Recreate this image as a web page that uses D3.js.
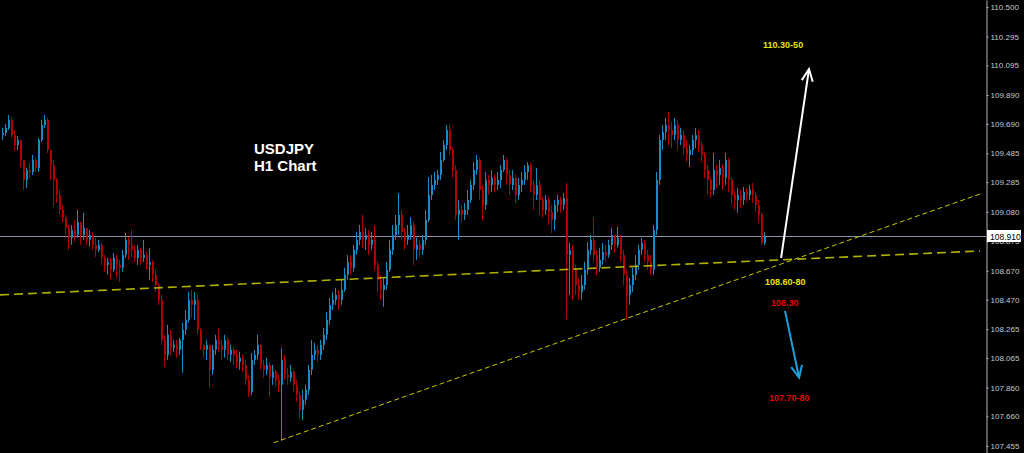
<!DOCTYPE html>
<html><head><meta charset="utf-8">
<script src="https://cdn.jsdelivr.net/npm/d3@7"></script>
<style>html,body{margin:0;padding:0;background:#000;overflow:hidden}svg{display:block}</style>
</head><body>
<svg id="chart" width="1024" height="453"></svg>
<script>
const title = ["USDJPY", "H1 Chart"];
const tickLabels = [110.500,110.295,110.095,109.890,109.690,109.485,109.285,109.080,108.875,108.670,108.470,108.265,108.065,107.860,107.660,107.455];
const currentPrice = 108.910;
const firstOpen = 109.612;
const closes = [
109.626,109.662,109.717,109.612,109.543,109.578,109.439,109.301,109.370,109.356,
109.439,109.384,109.578,109.682,109.717,109.509,109.404,109.301,109.196,109.093,
109.038,108.968,108.899,108.954,108.919,109.009,108.919,108.968,108.885,108.919,
108.850,108.815,108.850,108.760,108.711,108.732,108.677,108.760,108.711,108.691,
108.780,108.885,108.850,108.815,108.760,108.815,108.760,108.780,108.711,108.732,
108.642,108.572,108.469,108.191,108.087,108.226,108.136,108.156,108.122,108.191,
108.261,108.330,108.469,108.434,108.469,108.261,108.156,108.122,108.156,107.983,
108.122,108.191,108.156,108.122,108.191,108.087,108.122,108.087,108.038,108.067,
108.017,107.914,107.830,108.052,108.087,108.156,108.017,107.983,108.017,107.928,
107.969,107.914,107.879,108.052,107.948,107.928,107.969,107.879,107.809,107.706,
107.775,107.844,107.983,108.087,108.122,108.087,108.156,108.226,108.330,108.434,
108.469,108.503,108.469,108.538,108.642,108.732,108.691,108.815,108.885,108.940,
108.885,108.919,108.850,108.885,108.711,108.607,108.538,108.572,108.677,108.815,
108.919,108.988,109.058,108.940,108.885,108.919,108.988,108.815,108.850,108.815,
108.885,109.023,109.196,109.266,109.301,109.335,109.439,109.543,109.647,109.509,
109.370,109.058,109.093,109.058,109.093,109.162,109.266,109.370,109.439,109.231,
109.127,109.301,109.266,109.315,109.266,109.301,109.370,109.439,109.335,109.266,
109.315,109.196,109.266,109.301,109.356,109.404,109.266,109.196,109.266,109.162,
109.093,109.162,109.079,109.023,109.127,109.162,109.127,109.176,108.780,108.815,
108.677,108.572,108.524,108.572,108.677,108.815,108.885,108.780,108.691,108.746,
108.801,108.780,108.850,108.919,108.850,108.899,108.780,108.642,108.503,108.572,
108.642,108.711,108.815,108.864,108.780,108.732,108.677,108.954,109.301,109.578,
109.633,109.682,109.647,109.612,109.682,109.578,109.612,109.523,109.474,109.509,
109.578,109.612,109.543,109.474,109.370,109.301,109.231,109.370,109.335,109.384,
109.315,109.439,109.301,109.196,109.162,109.196,109.162,109.217,109.196,109.231,
109.196,109.127,109.058,108.864,108.910];
const highs = [
109.662,109.689,109.751,109.737,109.647,109.605,109.578,109.439,109.384,109.418,
109.474,109.454,109.592,109.717,109.751,109.731,109.509,109.439,109.315,109.231,
109.127,109.058,108.988,108.988,109.023,109.093,108.988,109.072,108.968,108.954,
108.940,108.899,108.885,108.864,108.780,108.760,108.760,108.794,108.780,108.746,
108.815,108.933,108.905,108.954,108.850,108.850,108.830,108.885,108.801,108.830,
108.746,108.677,108.586,108.503,108.226,108.295,108.261,108.191,108.191,108.206,
108.309,108.399,108.524,108.538,108.524,108.503,108.275,108.156,108.191,108.156,
108.156,108.226,108.275,108.191,108.226,108.206,108.156,108.136,108.122,108.108,
108.087,108.052,107.948,108.101,108.122,108.226,108.156,108.052,108.067,108.038,
108.017,107.983,107.948,108.136,108.087,107.997,108.017,107.983,107.914,107.830,
107.844,107.879,108.017,108.191,108.170,108.156,108.191,108.275,108.385,108.483,
108.524,108.552,108.538,108.607,108.691,108.780,108.780,108.850,108.940,108.988,
109.058,108.968,108.954,108.940,108.988,108.732,108.642,108.621,108.732,108.885,
108.988,109.058,109.210,109.093,108.968,108.988,109.044,109.009,108.899,108.885,
108.919,109.093,109.321,109.335,109.356,109.370,109.495,109.578,109.682,109.682,
109.523,109.404,109.162,109.127,109.141,109.231,109.301,109.425,109.474,109.454,
109.266,109.356,109.335,109.370,109.335,109.356,109.404,109.474,109.454,109.370,
109.370,109.335,109.315,109.356,109.404,109.425,109.418,109.301,109.384,109.301,
109.183,109.196,109.176,109.127,109.162,109.196,109.183,109.210,109.280,108.864,
108.850,108.711,108.621,108.642,108.732,108.871,108.919,109.044,108.815,108.830,
108.864,108.850,108.885,108.968,108.919,108.975,108.919,108.815,108.677,108.621,
108.691,108.780,108.850,108.899,108.885,108.815,108.780,108.988,109.356,109.612,
109.682,109.731,109.772,109.703,109.731,109.717,109.662,109.647,109.578,109.543,
109.612,109.662,109.647,109.564,109.495,109.404,109.315,109.488,109.404,109.439,
109.404,109.488,109.454,109.315,109.231,109.245,109.231,109.252,109.245,109.266,
109.280,109.217,109.162,109.072,108.940];
const lows = [
109.578,109.605,109.647,109.592,109.509,109.509,109.390,109.231,109.245,109.315,
109.335,109.356,109.356,109.564,109.662,109.488,109.301,109.113,109.141,109.058,
109.009,108.919,108.815,108.850,108.871,108.899,108.850,108.885,108.850,108.836,
108.815,108.766,108.801,108.711,108.663,108.642,108.607,108.663,108.621,108.593,
108.663,108.760,108.746,108.766,108.732,108.711,108.711,108.732,108.677,108.607,
108.593,108.524,108.434,108.156,108.003,108.052,108.087,108.108,108.067,108.087,
107.962,108.226,108.309,108.344,108.330,108.226,108.122,108.067,108.052,107.865,
107.948,108.087,108.108,108.052,108.067,108.052,108.038,108.017,107.997,107.983,
107.969,107.879,107.796,107.809,108.017,108.052,107.983,107.928,107.948,107.796,
107.879,107.872,107.830,107.491,107.914,107.879,107.900,107.830,107.761,107.650,
107.636,107.740,107.809,107.948,108.052,108.038,108.052,108.122,108.191,108.295,
108.399,108.434,108.399,108.434,108.524,108.607,108.642,108.663,108.780,108.850,
108.830,108.815,108.780,108.815,108.677,108.524,108.469,108.420,108.538,108.663,
108.780,108.885,108.919,108.885,108.815,108.850,108.885,108.711,108.746,108.760,
108.780,108.850,109.009,109.162,109.231,109.266,109.301,109.425,109.509,109.474,
109.315,109.023,108.885,109.009,109.023,109.058,109.141,109.231,109.335,109.162,
109.023,109.093,109.196,109.217,109.217,109.231,109.245,109.356,109.266,109.196,
109.231,109.141,109.162,109.217,109.266,109.301,109.217,109.093,109.162,109.058,
109.038,109.058,108.988,108.933,108.954,109.079,109.072,109.093,108.330,108.503,
108.469,108.503,108.469,108.469,108.538,108.642,108.780,108.732,108.642,108.663,
108.711,108.732,108.760,108.815,108.794,108.830,108.732,108.572,108.330,108.434,
108.524,108.607,108.677,108.780,108.732,108.677,108.642,108.642,108.919,109.266,
109.509,109.578,109.543,109.523,109.578,109.509,109.543,109.474,109.425,109.390,
109.474,109.523,109.495,109.425,109.315,109.196,109.176,109.196,109.245,109.266,
109.231,109.266,109.217,109.127,109.093,109.072,109.106,109.127,109.148,109.162,
109.141,109.079,109.009,108.850,108.850];

// trend lines: [bar index, price]
const trendFlat = [[-0.67, 108.503], [326, 108.808]];
const trendRising = [[90.5, 107.477], [326, 109.203]];
// annotations: [bar index, price]
const upArrow = [[259.7, 108.760], [269, 110.070]];
const downArrow = [[261, 108.392], [265.7, 107.928]];
const labels = [
  {text: "110.30-50", i: 253.7, p: 110.215, color: "#e6e600"},
  {text: "108.60-80", i: 254.3, p: 108.574, color: "#e6e600"},
  {text: "108.30", i: 256.3, p: 108.428, color: "#e00000"},
  {text: "107.70-80", i: 255.7, p: 107.768, color: "#e00000"}
];

const W = 1024, H = 453, axisX = 986;
const svg = d3.select("#chart");
svg.append("rect").attr("width", W).attr("height", H).attr("fill", "#000");

const x = d3.scaleLinear().domain([0, 326]).range([2, 980]);
const y = d3.scaleLinear().domain([107.406, 110.549]).range([H, 0]);

const candles = closes.map((c, i) => {
  const o = i === 0 ? firstOpen : closes[i - 1];
  return {i, o, c, h: Math.max(highs[i], o, c), l: Math.min(lows[i], o, c)};
});

// current price line
svg.append("line").attr("x1", 0).attr("x2", axisX).attr("y1", Math.round(y(currentPrice)) + 0.5).attr("y2", Math.round(y(currentPrice)) + 0.5)
  .attr("stroke", "#8a93a6").attr("stroke-width", 1);

const upC = "#1a8ac4", dnC = "#b00000";
const g = svg.append("g");
g.selectAll("line.wick").data(candles).join("line").attr("class", "wick")
  .attr("x1", d => Math.round(x(d.i)) + 0.5).attr("x2", d => Math.round(x(d.i)) + 0.5)
  .attr("y1", d => y(d.h)).attr("y2", d => y(d.l))
  .attr("stroke", d => d.c >= d.o ? upC : dnC).attr("stroke-width", 1);
g.selectAll("rect.body").data(candles).join("rect").attr("class", "body")
  .attr("x", d => Math.round(x(d.i)))
  .attr("width", 2)
  .attr("y", d => y(Math.max(d.o, d.c)))
  .attr("height", d => Math.max(1, Math.abs(y(d.o) - y(d.c))))
  .attr("fill", d => d.c >= d.o ? upC : dnC);

// trend lines
const ln = d3.line().x(d => x(d[0])).y(d => y(d[1]));
svg.append("path").attr("d", ln(trendFlat)).attr("stroke", "#b0b000").attr("stroke-width", 1.6)
  .attr("stroke-dasharray", "9,5").attr("fill", "none");
svg.append("path").attr("d", ln(trendRising)).attr("stroke", "#c8c800").attr("stroke-width", 1)
  .attr("stroke-dasharray", "5,3").attr("fill", "none");

// arrows
const defs = svg.append("defs");
function marker(id, color) {
  defs.append("marker").attr("id", id).attr("markerUnits", "userSpaceOnUse")
    .attr("viewBox", "-14 -8 16 16").attr("refX", 0).attr("refY", 0)
    .attr("markerWidth", 16).attr("markerHeight", 16).attr("orient", "auto")
    .append("path").attr("d", "M-12,-5.5L0,0L-12,5.5").attr("fill", "none")
    .attr("stroke", color).attr("stroke-width", 2);
}
marker("mw", "#ffffff");
marker("mb", "#1ea0dc");
svg.append("path").attr("d", ln(upArrow)).attr("stroke", "#ffffff").attr("stroke-width", 2)
  .attr("fill", "none").attr("marker-end", "url(#mw)");
svg.append("path").attr("d", ln(downArrow)).attr("stroke", "#1ea0dc").attr("stroke-width", 2)
  .attr("fill", "none").attr("marker-end", "url(#mb)");

// annotation labels
svg.selectAll("text.ann").data(labels).join("text").attr("class", "ann")
  .attr("x", d => x(d.i)).attr("y", d => y(d.p))
  .attr("fill", d => d.color).attr("font-family", "Liberation Sans, Arial, sans-serif")
  .attr("font-size", 9).attr("font-weight", "bold").text(d => d.text);

// title
svg.selectAll("text.title").data(title).join("text").attr("class", "title")
  .attr("x", 254).attr("y", (d, k) => 154 + k * 17)
  .attr("fill", "#ffffff").attr("font-family", "Liberation Sans, Arial, sans-serif")
  .attr("font-size", 15).attr("font-weight", "bold").text(d => d);

// price axis
const axis = d3.axisRight(y).tickValues(tickLabels).tickFormat(d3.format(".3f")).tickSize(2).tickSizeOuter(0).tickPadding(2);
const ag = svg.append("g").attr("transform", `translate(${axisX + 0.5},0)`).call(axis);
ag.select(".domain").attr("stroke", "#b4b4b4");
ag.selectAll(".tick line").attr("stroke", "#b4b4b4");
ag.selectAll(".tick text").attr("fill", "#c8c8c8").attr("font-family", "Liberation Sans, Arial, sans-serif").attr("font-size", 8);

// current price label
const cy = Math.round(y(currentPrice));
svg.append("rect").attr("x", axisX + 1).attr("y", cy - 6).attr("width", 34).attr("height", 12).attr("fill", "#ffffff");
svg.append("text").attr("x", axisX + 4).attr("y", cy + 3.5).attr("fill", "#000")
  .attr("font-family", "Liberation Sans, Arial, sans-serif").attr("font-size", 8.5).text(d3.format(".3f")(currentPrice));
</script>
</body></html>
